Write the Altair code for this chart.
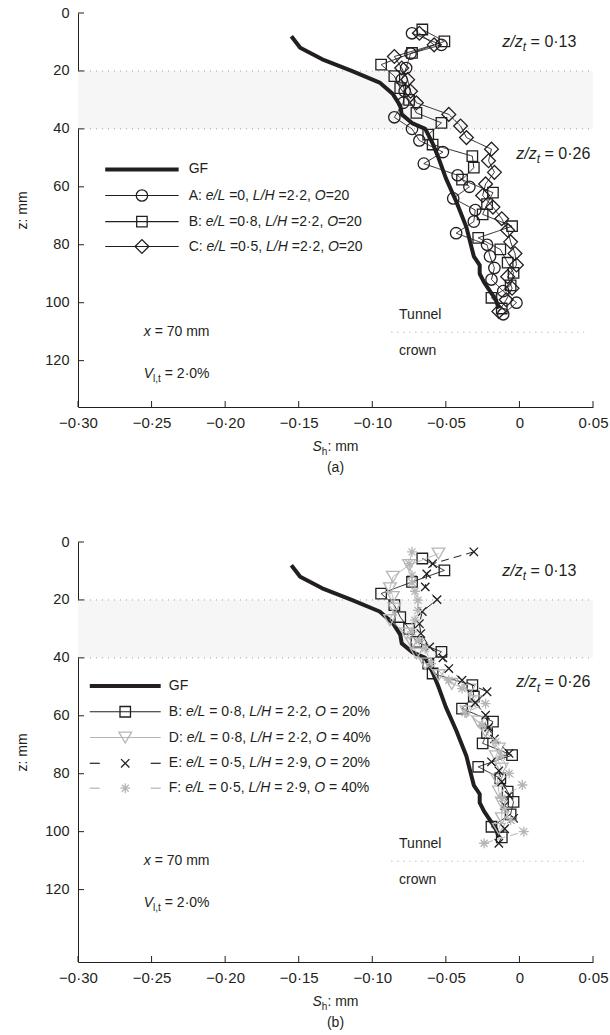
import altair as alt
import pandas as pd

# ---------------- data ----------------
x_ticks = [-0.30, -0.25, -0.20, -0.15, -0.10, -0.05, 0.0, 0.05]
z_ticks = [0, 20, 40, 60, 80, 100, 120]

gf_z = [8, 12, 16, 20, 24, 28, 32, 35, 38, 40, 45, 50, 57, 65, 74, 80, 84, 87, 90, 93, 96, 99, 102]
gf_x = [-0.155, -0.149, -0.134, -0.114, -0.095, -0.086, -0.081, -0.080, -0.073, -0.064, -0.059,
        -0.055, -0.050, -0.043, -0.036, -0.033, -0.031, -0.027, -0.027, -0.024, -0.020, -0.016, -0.014]

a_z = [7, 11, 14, 19, 23, 27, 31, 36, 40, 44, 48, 52, 56, 60, 64, 68, 72, 76, 80, 84, 88, 92, 96, 100, 104]
a_x = [-0.073, -0.053, -0.074, -0.077, -0.080, -0.078, -0.079, -0.085, -0.073, -0.068, -0.052, -0.065,
       -0.042, -0.034, -0.045, -0.030, -0.031, -0.043, -0.022, -0.020, -0.017, -0.019, -0.011, -0.002, -0.011]

b_z = [5.7, 9.8, 13.8, 17.8, 21.8, 25.9, 30, 34.5, 37.9, 42, 45.4, 49.4, 53.4, 57.5, 62, 66, 69.5,
       73.6, 77.6, 81.6, 86.2, 89.7, 94, 98.3, 102]
b_x = [-0.066, -0.051, -0.073, -0.094, -0.085, -0.081, -0.075, -0.070, -0.053, -0.062, -0.059, -0.032,
       -0.031, -0.039, -0.018, -0.022, -0.025, -0.005, -0.028, -0.013, -0.008, -0.004, -0.006, -0.019, -0.012]

c_z = [7, 11, 15, 19, 23, 27, 31, 35, 39, 43, 47, 51, 55, 59, 63, 67, 71, 75, 79, 83, 87, 91, 95, 99, 103]
c_x = [-0.068, -0.058, -0.085, -0.080, -0.076, -0.074, -0.070, -0.048, -0.040, -0.036, -0.019, -0.021,
       -0.017, -0.023, -0.025, -0.018, -0.012, -0.008, -0.006, -0.003, -0.002, -0.008, -0.005, -0.009, -0.014]

d_z = [4, 8, 12, 16, 19, 23, 27, 31.6, 35, 38.5, 42, 46, 49, 51, 55, 58.6, 62, 65.5, 71.3, 74, 78.2,
       82, 86.2, 90, 95.4, 99]
d_x = [-0.055, -0.075, -0.086, -0.088, -0.086, -0.085, -0.088, -0.077, -0.073, -0.070, -0.064, -0.055,
       -0.046, -0.034, -0.030, -0.036, -0.028, -0.023, -0.014, -0.016, -0.012, -0.015, -0.014, -0.012,
       -0.012, -0.014]

e_z = [3.4, 7.5, 11, 15.5, 19.9, 24, 28.2, 31.6, 36.2, 40, 43.7, 47.7, 51.7, 55.5, 59.8, 64, 68, 73,
       75.9, 79, 82.8, 87.4, 91, 95.4, 99, 104]
e_x = [-0.031, -0.059, -0.063, -0.064, -0.056, -0.066, -0.068, -0.067, -0.061, -0.052, -0.048, -0.039,
       -0.022, -0.030, -0.023, -0.021, -0.017, -0.007, -0.019, -0.014, -0.012, -0.007, -0.010, -0.004,
       -0.010, -0.014]

f_z = [3.4, 7.5, 11.5, 14, 17, 20.1, 23.6, 27, 31, 34, 36.8, 42, 47.7, 50.6, 55.8, 59, 63.2, 69, 74,
       79.9, 83.9, 88.5, 92, 96, 100, 104]
f_x = [-0.073, -0.075, -0.073, -0.073, -0.071, -0.069, -0.069, -0.071, -0.073, -0.068, -0.064, -0.060,
       -0.048, -0.039, -0.023, -0.037, -0.025, -0.016, -0.012, -0.007, 0.002, -0.012, -0.010, -0.006,
       0.003, -0.024]

# ---------------- styling / layout ----------------
FONT = "Liberation Sans"
INK = "#231f20"
GREY = "#b5b5b5"
BAND = "#f6f6f6"
DOT = "#9c9c9c"
X_MIN, X_MAX = -0.30, 0.05
W = 515
PX_X = W / (X_MAX - X_MIN)
PX_Z = 394 / 136.0          # pixels per mm, both panels

X_PATH = "M-1,-1L1,1M-1,1L1,-1"
AST_PATH = "M-1,0L1,0M0,-1L0,1M-0.7,-0.7L0.7,0.7M-0.7,0.7L0.7,-0.7"

STYLE = {
    "A": dict(color=INK, dash=[1, 0], shape="circle", size=130),
    "B": dict(color=INK, dash=[1, 0], shape="square", size=110),
    "C": dict(color=INK, dash=[1, 0], shape="diamond", size=190),
    "D": dict(color=GREY, dash=[1, 0], shape="triangle-down", size=160),
    "E": dict(color=INK, dash=[8, 5], shape=X_PATH, size=70),
    "F": dict(color=GREY, dash=[8, 5], shape=AST_PATH, size=100),
}

CW = {' ': 278, ':': 278, ',': 278, '.': 278, '\u00b7': 333, '=': 584, '/': 278, '%': 889,
      '(': 333, ')': 333, 'A': 667, 'B': 667, 'C': 722, 'D': 722, 'E': 667, 'F': 611, 'G': 778,
      'H': 722, 'L': 556, 'O': 778, 'S': 667, 'T': 611, 'V': 667, 'a': 556, 'b': 556, 'c': 500,
      'e': 556, 'h': 556, 'l': 222, 'm': 833, 'n': 556, 'o': 556, 'r': 333, 't': 278, 'u': 556,
      'w': 722, 'x': 500, 'z': 500}


def tw(s, fs):
    return sum(CW.get(ch, 556) for ch in s) * fs / 1000.0


def text_rows(x0, z0, parts, fs=14, center=False):
    sub_fs = round(fs * 0.72)
    total = sum(tw(t, sub_fs if sub else fs) for t, it, sub in parts)
    x = x0 - (total / 2) / PX_X if center else x0
    rows = []
    for t, it, sub in parts:
        f = sub_fs if sub else fs
        lead = len(t) - len(t.lstrip(' '))
        body = t.strip(' ')
        if body:
            rows.append(dict(x=x + tw(t[:lead], f) / PX_X, z=z0 + (fs * 0.33 / PX_Z if sub else 0),
                             t=body, it=it, fs=f))
        x += tw(t, f) / PX_X
    return rows


def legend_text(x0, z, label, el, lh, o, spaced):
    if spaced:
        return text_rows(x0, z, [(label + ": ", False, False), ("e/L", True, False), (" = " + el + ", ", False, False),
                                 ("L/H", True, False), (" = " + lh + ", ", False, False), ("O", True, False),
                                 (" = " + o, False, False)])
    return text_rows(x0, z, [(label + ": ", False, False), ("e/L", True, False), (" =" + el + ", ", False, False),
                             ("L/H", True, False), (" =" + lh + ", ", False, False), ("O", True, False),
                             ("=" + o, False, False)])


def make_panel(zmax, series, legend_x, legend_entries, legend_rows, caption):
    H = round(zmax * PX_Z)
    xs = alt.Scale(domain=[X_MIN, X_MAX], nice=False, zero=False)
    zs = alt.Scale(domain=[0, zmax], reverse=True, nice=False, zero=False)
    x_axis = alt.Axis(values=x_ticks, ticks=False, grid=False, title=None, domainColor=INK,
                      labelFont=FONT, labelFontSize=15, labelColor=INK, labelPadding=8, labelFlush=False,
                      labelExpr="datum.value == 0 ? '0' : replace(replace(format(datum.value, '.2f'), '-', '\u2212'), '.', '\u00b7')")
    y_axis = alt.Axis(values=z_ticks, ticks=False, grid=False, title="z: mm", domainColor=INK,
                      labelFont=FONT, labelFontSize=14.5, labelColor=INK, labelPadding=9, labelFlush=False,
                      titleFont=FONT, titleFontSize=14, titleFontWeight="normal", titleColor=INK,
                      titlePadding=15)
    XE = alt.X("x:Q", scale=xs, axis=x_axis)
    ZE = alt.Y("z:Q", scale=zs, axis=y_axis)

    layers = []
    # frame: shaded band, dotted lines, inward ticks
    band = pd.DataFrame({"x": [X_MIN], "x2": [X_MAX], "z": [20], "z2": [40]})
    dots = pd.DataFrame({"x": [X_MIN, X_MIN, -0.087], "x2": [X_MAX, X_MAX, 0.044], "z": [20, 40, 110.2]})
    layers.append(alt.Chart(band).mark_rect(color=BAND).encode(x=XE, x2="x2:Q", y=ZE, y2="z2:Q"))
    layers.append(alt.Chart(dots).mark_rule(color=DOT, strokeWidth=1, strokeDash=[1, 5])
                  .encode(x=XE, x2="x2:Q", y=ZE))
    layers.append(alt.Chart(pd.DataFrame({"x": x_ticks})).mark_rule(color=INK, strokeWidth=1)
                  .encode(x=XE, y=alt.value(H), y2=alt.value(H - 6)))
    layers.append(alt.Chart(pd.DataFrame({"z": z_ticks})).mark_rule(color=INK, strokeWidth=1)
                  .encode(y=ZE, x=alt.value(0), x2=alt.value(6)))

    # GF
    gdf = pd.DataFrame({"x": gf_x, "z": gf_z, "i": range(len(gf_z))})
    layers.append(alt.Chart(gdf).mark_line(color=INK, strokeWidth=4, strokeJoin="round")
                  .encode(x=XE, y=ZE, order="i:Q"))

    # model series
    for name, zvals, xvals in series:
        st = STYLE[name]
        df = pd.DataFrame({"x": xvals, "z": zvals, "i": range(len(zvals))})
        layers.append(alt.Chart(df).mark_line(color=st["color"], strokeWidth=1, strokeDash=st["dash"])
                      .encode(x=XE, y=ZE, order="i:Q"))
        layers.append(alt.Chart(df).mark_point(shape=st["shape"], size=st["size"], color=st["color"],
                                               filled=False, strokeWidth=1.3, opacity=1)
                      .encode(x=XE, y=ZE))

    # legend graphics
    x1, x2 = legend_x
    xm = (x1 + x2) / 2
    for name, z in legend_entries:
        if name == "GF":
            df = pd.DataFrame({"x": [x1], "x2": [x2], "z": [z]})
            layers.append(alt.Chart(df).mark_rule(color=INK, strokeWidth=4).encode(x=XE, x2="x2:Q", y=ZE))
            continue
        st = STYLE[name]
        if st["dash"] == [1, 0]:
            df = pd.DataFrame({"x": [x1], "x2": [x2], "z": [z]})
        else:
            d = 10 / PX_X
            df = pd.DataFrame({"x": [x1, x2 - d], "x2": [x1 + d, x2], "z": [z, z]})
        layers.append(alt.Chart(df).mark_rule(color=st["color"], strokeWidth=1.2).encode(x=XE, x2="x2:Q", y=ZE))
        layers.append(alt.Chart(pd.DataFrame({"x": [xm], "z": [z]}))
                      .mark_point(shape=st["shape"], size=st["size"], color=st["color"],
                                  filled=False, strokeWidth=1.3, opacity=1).encode(x=XE, y=ZE))

    # texts
    rows = list(legend_rows)
    rows += text_rows(-0.0116, 10, [("z/z", True, False), ("t", True, True), (" = 0\u00b713", False, False)], fs=16)
    rows += text_rows(-0.0021, 48.5, [("z/z", True, False), ("t", True, True), (" = 0\u00b726", False, False)], fs=16)
    rows += text_rows(-0.0818, 104.4, [("Tunnel", False, False)])
    rows += text_rows(-0.0818, 116.7, [("crown", False, False)])
    rows += text_rows(-0.2553, 110.2, [("x", True, False), (" = 70 mm", False, False)])
    rows += text_rows(-0.2553, 124.7, [("V", True, False), ("l,t", False, True), (" = 2\u00b70%", False, False)])
    mid = (X_MIN + X_MAX) / 2
    rows += text_rows(mid, zmax + 40 / PX_Z, [("S", True, False), ("h", False, True), (": mm", False, False)],
                      center=True)
    rows += text_rows(mid, zmax + 61 / PX_Z, [(caption, False, False)], center=True)
    tdf = pd.DataFrame(rows)
    for it in (False, True):
        sub = tdf[tdf.it == it]
        layers.append(alt.Chart(sub).mark_text(align="left", baseline="middle", font=FONT,
                                               fontStyle="italic" if it else "normal", color=INK)
                      .encode(x=XE, y=ZE, text="t:N", size=alt.Size("fs:Q", scale=None, legend=None)))
    return alt.layer(*layers).properties(width=W, height=H)


# ---------------- panel (a) ----------------
la = (-0.2815, -0.2316)
la_t = -0.2248
rows_a = text_rows(la_t, 54, [("GF", False, False)])
rows_a += legend_text(la_t, 63, "A", "0", "2\u00b72", "20", False)
rows_a += legend_text(la_t, 72, "B", "0\u00b78", "2\u00b72", "20", False)
rows_a += legend_text(la_t, 80.6, "C", "0\u00b75", "2\u00b72", "20", False)
panel_a = make_panel(136, [("A", a_z, a_x), ("B", b_z, b_x), ("C", c_z, c_x)], la,
                     [("GF", 54), ("A", 63), ("B", 72), ("C", 80.6)], rows_a, "(a)")

# ---------------- panel (b) ----------------
lb = (-0.292, -0.2438)
lb_t = -0.2383
rows_b = text_rows(lb_t, 49.7, [("GF", False, False)])
rows_b += legend_text(lb_t, 58.6, "B", "0\u00b78", "2\u00b72", "20%", True)
rows_b += legend_text(lb_t, 67.5, "D", "0\u00b78", "2\u00b72", "40%", True)
rows_b += legend_text(lb_t, 76.4, "E", "0\u00b75", "2\u00b79", "20%", True)
rows_b += legend_text(lb_t, 85, "F", "0\u00b75", "2\u00b79", "40%", True)
panel_b = make_panel(145, [("B", b_z, b_x), ("D", d_z, d_x), ("E", e_z, e_x), ("F", f_z, f_x)], lb,
                     [("GF", 49.7), ("B", 58.6), ("D", 67.5), ("E", 76.4), ("F", 85)], rows_b, "(b)")

chart = alt.vconcat(panel_a, panel_b, spacing=58).configure_view(stroke=None).properties(
    padding={"left": 15, "top": 5, "right": 0, "bottom": 0}, background="white")

chart.save("out.html", embed_options={"renderer": "svg", "actions": False})
